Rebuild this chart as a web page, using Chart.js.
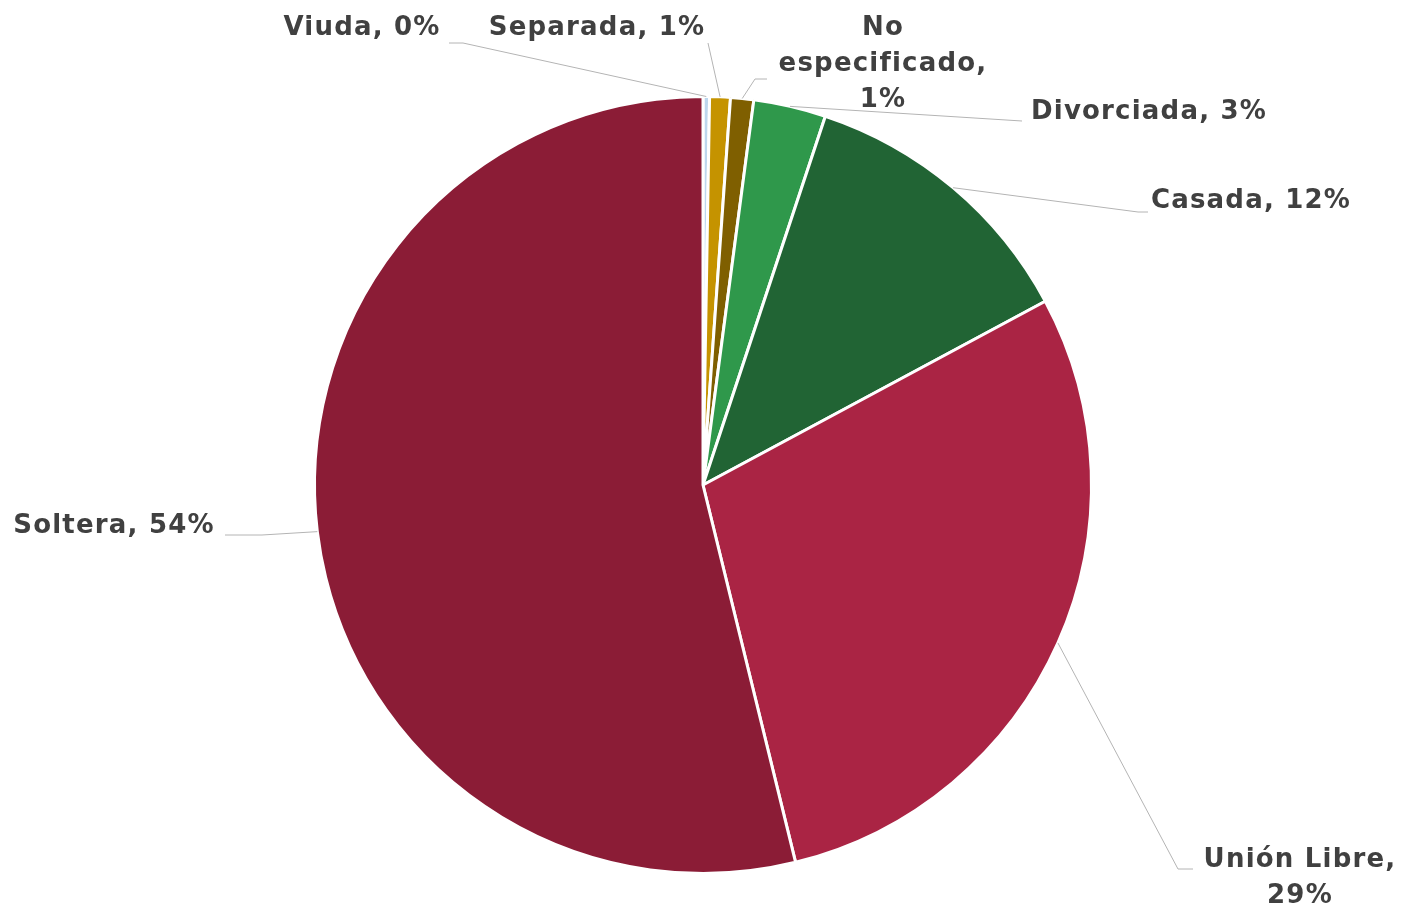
<!DOCTYPE html>
<html>
<head>
    <meta charset="utf-8">
    <title>Estado civil</title>
    <script src="https://cdn.jsdelivr.net/npm/chart.js"></script>
    <style>
        body {
            margin: 0;
            background-color: #ffffff;
        }
        .chart-container {
            width: 1406px;
            height: 905px;
        }
    </style>
</head>
<body>
    <div class="chart-container">
        <canvas id="pieChart"></canvas>
    </div>

    <script>
        // Data (shares in %)
        const categories = ['Viuda', 'Separada', 'No especificado', 'Divorciada', 'Casada', 'Unión Libre', 'Soltera'];
        const shares = [0.27, 0.86, 0.96, 3.01, 12.06, 29.01, 53.83];
        const sliceColors = ['#BDD7EE', '#C59300', '#7F5F00', '#2F984B', '#216434', '#AA2444', '#8B1C36'];

        // Where each outside label sits: text centre x, first baseline, words per line,
        // and the leader line's bend / end points next to the label
        const labelLayout = [
            { x: 362, y: 35, lines: [2], bend: [463, 43], end: [449, 43] },
            { x: 597, y: 35, lines: [2], bend: null, end: [708, 43] },
            { x: 883, y: 35, lines: [1, 1, 1], bend: [755, 79], end: [767, 79] },
            { x: 1149, y: 119, lines: [2], bend: null, end: [1022, 121] },
            { x: 1251, y: 208, lines: [2], bend: [1138, 212], end: [1148, 212] },
            { x: 1300, y: 867, lines: [2, 1], bend: [1178, 869], end: [1193, 869] },
            { x: 114, y: 533, lines: [2], bend: [262, 535], end: [225, 535] }
        ];
        const lineHeight = 36;
        const labelFont = 'bold 26px "DejaVu Sans", sans-serif';

        const outsideLabels = {
            id: 'outsideLabels',
            afterDatasetsDraw(chart) {
                const ctx = chart.ctx;
                const meta = chart.getDatasetMeta(0);
                const values = chart.data.datasets[0].data;
                const total = values.reduce((a, b) => a + b, 0);

                ctx.save();
                meta.data.forEach((arc, i) => {
                    const p = arc.getProps(['x', 'y', 'startAngle', 'endAngle', 'outerRadius'], true);
                    const mid = (p.startAngle + p.endAngle) / 2;
                    const sx = p.x + Math.cos(mid) * p.outerRadius;
                    const sy = p.y + Math.sin(mid) * p.outerRadius;
                    const spot = labelLayout[i];

                    // leader line
                    ctx.strokeStyle = '#B4B4B4';
                    ctx.lineWidth = 1;
                    ctx.beginPath();
                    ctx.moveTo(sx, sy);
                    if (spot.bend) ctx.lineTo(spot.bend[0], spot.bend[1]);
                    ctx.lineTo(spot.end[0], spot.end[1]);
                    ctx.stroke();

                    // label text, split into lines by word count
                    const pct = Math.round(values[i] / total * 100);
                    const words = `${chart.data.labels[i]}, ${pct}%`.split(' ');
                    ctx.fillStyle = '#404040';
                    ctx.font = labelFont;
                    ctx.letterSpacing = '1.2px';
                    ctx.textAlign = 'center';
                    ctx.textBaseline = 'alphabetic';
                    let w = 0;
                    spot.lines.forEach((n, k) => {
                        const text = words.slice(w, w + n).join(' ');
                        w += n;
                        ctx.fillText(text, spot.x, spot.y + k * lineHeight);
                    });
                });
                ctx.restore();
            }
        };

        const ctx = document.getElementById('pieChart').getContext('2d');
        new Chart(ctx, {
            type: 'pie',
            data: {
                labels: categories,
                datasets: [{
                    data: shares,
                    backgroundColor: sliceColors,
                    borderColor: '#ffffff',
                    borderWidth: 3,
                    hoverOffset: 0
                }]
            },
            options: {
                responsive: true,
                maintainAspectRatio: false,
                animation: false,
                layout: {
                    padding: { top: 95, bottom: 30, left: 0, right: 0 }
                },
                plugins: {
                    legend: { display: false },
                    tooltip: { enabled: false }
                }
            },
            plugins: [outsideLabels]
        });
    </script>
</body>
</html>
